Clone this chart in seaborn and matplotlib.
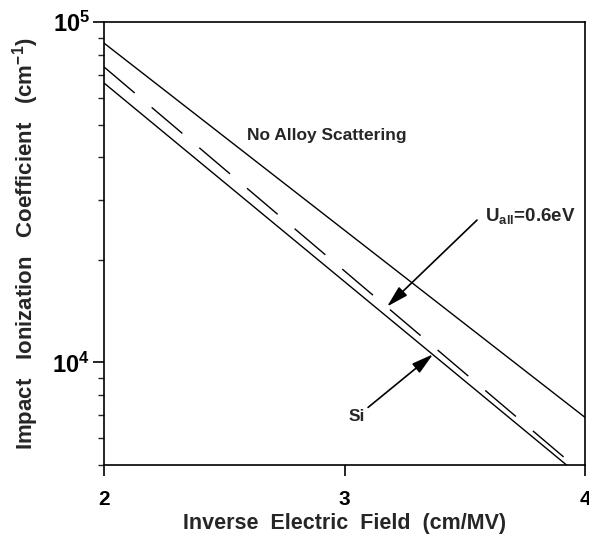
import matplotlib
matplotlib.use("Agg")
import matplotlib.pyplot as plt
import seaborn as sns
import pandas as pd
import numpy as np

# Data: inverse field (cm/MV) vs impact ionization coefficient (cm^-1)
x_vals = [2.0, 4.0]
no_alloy = [86700, 6900]
u_all = [73800, 4670]
si = [66200, 4510]

sns.set_theme(style="white")
plt.rcParams['font.family'] = ['Liberation Sans', 'DejaVu Sans']
plt.rcParams['font.weight'] = 'bold'
plt.rcParams['mathtext.fontset'] = 'custom'
plt.rcParams['mathtext.rm'] = 'Liberation Sans:bold'
plt.rcParams['mathtext.bf'] = 'Liberation Sans:bold'
plt.rcParams['mathtext.it'] = 'Liberation Sans:bold'

fig = plt.figure(figsize=(5.89, 5.50), dpi=100)
ax = fig.add_axes([104/589, 1-465/550, (585-104)/589, (465-22)/550])

df = pd.DataFrame({
    'x': x_vals * 3,
    'y': no_alloy + u_all + si,
    'series': ['No Alloy Scattering'] * 2 + ['Uall=0.6eV'] * 2 + ['Si'] * 2,
})

sns.lineplot(data=df[df.series == 'No Alloy Scattering'], x='x', y='y', color='black', lw=1.0, ax=ax)
sns.lineplot(data=df[df.series == 'Uall=0.6eV'], x='x', y='y', color='black', lw=1.0, ax=ax,
             dashes=False)
ax.lines[-1].set_dashes((29, 16))
sns.lineplot(data=df[df.series == 'Si'], x='x', y='y', color='black', lw=1.0, ax=ax)

ax.set_yscale('log')
ax.set_xlim(2, 4)
ax.set_ylim(5000, 1e5)
ax.set_xticks([2, 3, 4])
ax.set_xticklabels(['2', '3', '4'])
ax.set_yticks([1e4, 1e5])
ax.set_yticklabels([r'$\mathbf{10^4}$', r'$\mathbf{10^5}$'])
ax.yaxis.set_minor_locator(matplotlib.ticker.LogLocator(base=10, subs=np.arange(2, 10)))
ax.yaxis.set_minor_formatter(matplotlib.ticker.NullFormatter())

for s in ax.spines.values():
    s.set_color('black')
    s.set_linewidth(1.2)

ax.tick_params(axis='both', which='major', direction='out', length=8, width=1.2,
               colors='black', left=True, bottom=True, pad=6)
ax.tick_params(axis='x', which='major', labelsize=15, pad=10)
ax.tick_params(axis='y', which='major', labelsize=17, pad=2)
ax.tick_params(axis='y', which='minor', direction='out', length=4, width=1.0, left=True)
for lbl in ax.get_xticklabels():
    lbl.set_fontweight('bold')

ax.set_xlabel('Inverse  Electric  Field  (cm/MV)', fontsize=15.5, fontweight='bold', labelpad=3)
ax.set_ylabel(r'Impact   Ionization   Coefficient   (cm$^{\mathbf{-1}}$)', fontsize=16,
              fontweight='bold', labelpad=8)

ax.text(2.595, 46500, 'No Alloy Scattering', fontsize=12.5, fontweight='bold',
        ha='left', va='center')
ax.text(3.584, 27000, r'U$_{\mathbf{all}}$=0.6eV', fontsize=13.5, fontweight='bold',
        ha='left', va='center')
ax.text(3.052, 6930, 'Si', fontsize=12.5, fontweight='bold', ha='center', va='center')

arrow = dict(arrowstyle='-|>,head_length=1.1,head_width=0.3', color='black', lw=1.2,
             shrinkA=0, shrinkB=0)
ax.annotate('', xy=(3.177, 14600), xytext=(3.551, 26200), arrowprops=arrow)
ax.annotate('', xy=(3.368, 10570), xytext=(3.098, 7380), arrowprops=arrow)

fig.savefig('out.png', dpi=100)
